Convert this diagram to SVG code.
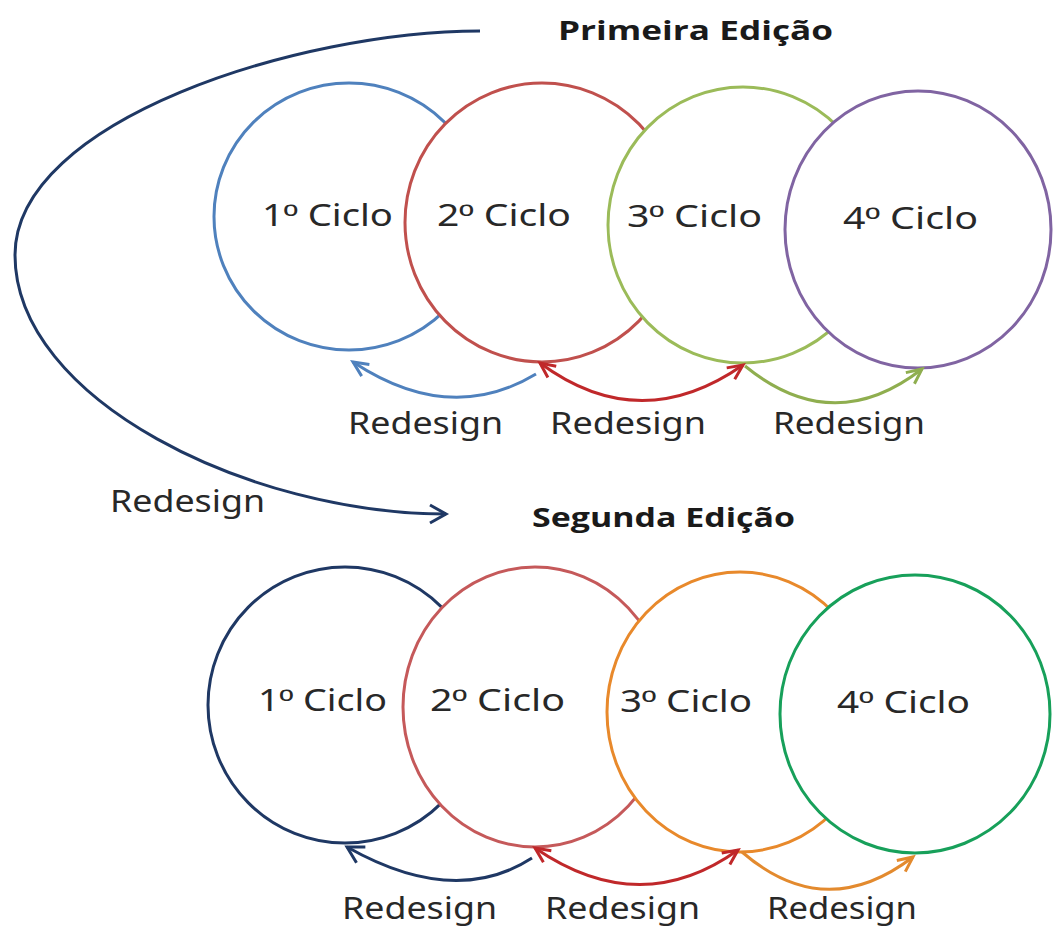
<svg xmlns="http://www.w3.org/2000/svg" width="1053" height="929" viewBox="0 0 1053 929">
<style>
.bg{fill:#ffffff}
.node{fill:#ffffff;stroke-width:3}
.lbl{font-family:"Noto Sans","Open Sans","Liberation Sans",sans-serif;font-size:30px;fill:#282828}
.ord{font-family:"Liberation Sans",sans-serif}
.ttl{font-family:"Open Sans","Liberation Sans",sans-serif;font-size:27px;font-weight:bold;fill:#1a1a1a}
.arc{fill:none;stroke-width:3}
</style>
<defs>
<marker id="mNavy" markerUnits="userSpaceOnUse" markerWidth="30" markerHeight="30" refX="0" refY="0" viewBox="-20 -15 30 30" orient="auto"><path d="M-16,-9 L0,0 L-16,9" fill="none" stroke="#1f3864" stroke-width="3"/></marker>
<marker id="mBlue" markerUnits="userSpaceOnUse" markerWidth="30" markerHeight="30" refX="0" refY="0" viewBox="-20 -15 30 30" orient="auto"><path d="M-15,-7 L0,0 L-15,7" fill="none" stroke="#4f81bd" stroke-width="3"/></marker>
<marker id="mRed" markerUnits="userSpaceOnUse" markerWidth="30" markerHeight="30" refX="0" refY="0" viewBox="-20 -15 30 30" orient="auto-start-reverse"><path d="M-15,-7 L0,0 L-15,7" fill="none" stroke="#c0282a" stroke-width="3"/></marker>
<marker id="mGreen" markerUnits="userSpaceOnUse" markerWidth="30" markerHeight="30" refX="0" refY="0" viewBox="-20 -15 30 30" orient="auto"><path d="M-15,-7 L0,0 L-15,7" fill="none" stroke="#8fae4f" stroke-width="3"/></marker>
<marker id="mOrange" markerUnits="userSpaceOnUse" markerWidth="30" markerHeight="30" refX="0" refY="0" viewBox="-20 -15 30 30" orient="auto"><path d="M-15,-7 L0,0 L-15,7" fill="none" stroke="#e38a2e" stroke-width="3"/></marker>
</defs>
<rect class="bg" x="0" y="0" width="1053" height="929"/>

<g id="titulo-primeira"><text class="ttl" x="558" y="40" textLength="275" lengthAdjust="spacingAndGlyphs">Primeira Edição</text></g>
<g id="titulo-segunda"><text class="ttl" x="532" y="527" textLength="263" lengthAdjust="spacingAndGlyphs">Segunda Edição</text></g>

<g id="p1"><ellipse class="node" cx="349" cy="216.5" rx="135" ry="133.5" stroke="#4f81bd"/><text class="lbl" x="262" y="226" textLength="131" lengthAdjust="spacingAndGlyphs">1<tspan class="ord">º</tspan> Ciclo</text></g>
<g id="p2"><ellipse class="node" cx="542" cy="222.5" rx="137" ry="139.5" stroke="#c0504d"/><text class="lbl" x="437" y="226" textLength="134" lengthAdjust="spacingAndGlyphs">2<tspan class="ord">º</tspan> Ciclo</text></g>
<g id="p3"><ellipse class="node" cx="743" cy="225" rx="135" ry="138" stroke="#9bbb59"/><text class="lbl" x="627" y="227" textLength="135" lengthAdjust="spacingAndGlyphs">3<tspan class="ord">º</tspan> Ciclo</text></g>
<g id="p4"><ellipse class="node" cx="918" cy="229.5" rx="133" ry="138.5" stroke="#8064a2"/><text class="lbl" x="843" y="229" textLength="135" lengthAdjust="spacingAndGlyphs">4<tspan class="ord">º</tspan> Ciclo</text></g>

<g id="s1"><ellipse class="node" cx="345" cy="705" rx="137" ry="138" stroke="#1f3864" stroke-width="3.5"/><text class="lbl" x="258" y="711" textLength="129" lengthAdjust="spacingAndGlyphs">1<tspan class="ord">º</tspan> Ciclo</text></g>
<g id="s2"><ellipse class="node" cx="535" cy="707" rx="132" ry="140" stroke="#c5595a"/><text class="lbl" x="430" y="711" textLength="135" lengthAdjust="spacingAndGlyphs">2<tspan class="ord">º</tspan> Ciclo</text></g>
<g id="s3"><ellipse class="node" cx="740" cy="712" rx="133" ry="140" stroke="#e8892b"/><text class="lbl" x="620" y="712" textLength="132" lengthAdjust="spacingAndGlyphs">3<tspan class="ord">º</tspan> Ciclo</text></g>
<g id="s4"><ellipse class="node" cx="915" cy="714" rx="135" ry="139" stroke="#17a05a"/><text class="lbl" x="837" y="713" textLength="133" lengthAdjust="spacingAndGlyphs">4<tspan class="ord">º</tspan> Ciclo</text></g>

<g id="connectors">
<path class="arc" d="M480,31 C300,31 15,120 15,255 C15,400 250,514 446,514" stroke="#1f3864" marker-end="url(#mNavy)"/>
<path class="arc" d="M536,374 Q450,426 353,362" stroke="#4f81bd" marker-end="url(#mBlue)"/>
<path class="arc" d="M743,365 Q640,437 540,363" stroke="#c0282a" marker-start="url(#mRed)" marker-end="url(#mRed)"/>
<path class="arc" d="M745,366 Q833,438 922,369" stroke="#8fae4f" marker-end="url(#mGreen)"/>
<path class="arc" d="M532,858 Q455,908 347,847" stroke="#1f3864" marker-end="url(#mNavy)"/>
<path class="arc" d="M738,850 Q640,920 535,848" stroke="#c0282a" marker-start="url(#mRed)" marker-end="url(#mRed)"/>
<path class="arc" d="M742,852 Q825,924 913,857" stroke="#e38a2e" marker-end="url(#mOrange)"/>
</g>

<g id="labels">
<text class="lbl" x="110" y="512" textLength="155" lengthAdjust="spacingAndGlyphs">Redesign</text>
<text class="lbl" x="348" y="434" textLength="155" lengthAdjust="spacingAndGlyphs">Redesign</text>
<text class="lbl" x="550" y="434" textLength="156" lengthAdjust="spacingAndGlyphs">Redesign</text>
<text class="lbl" x="773" y="434" textLength="152" lengthAdjust="spacingAndGlyphs">Redesign</text>
<text class="lbl" x="342" y="919" textLength="155" lengthAdjust="spacingAndGlyphs">Redesign</text>
<text class="lbl" x="545" y="919" textLength="155" lengthAdjust="spacingAndGlyphs">Redesign</text>
<text class="lbl" x="767" y="919" textLength="150" lengthAdjust="spacingAndGlyphs">Redesign</text>
</g>
</svg>
